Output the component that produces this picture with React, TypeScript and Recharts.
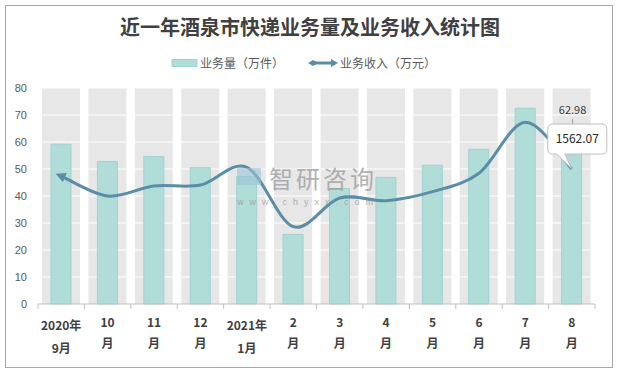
import { Bar, ComposedChart, LabelList, Line, XAxis, YAxis } from "recharts";

const months = [
  "2020年\n9月", "10\n月", "11\n月", "12\n月", "2021年\n1月", "2\n月",
  "3\n月", "4\n月", "5\n月", "6\n月", "7\n月", "8\n月",
];
// 业务量（万件）
const volume = [59.2, 52.8, 54.6, 50.5, 47.2, 25.8, 42.8, 46.9, 51.4, 57.3, 72.5, 62.98];
// 业务收入（万元）
const revenue = [1481, 1250, 1366, 1377, 1582, 895, 1227, 1196, 1300, 1513, 2103, 1562.07];
const leftTicks = [0, 10, 20, 30, 40, 50, 60, 70, 80];

const W = 617;
const H = 372;
const PLOT_LEFT = 38;
const PLOT_RIGHT = 22;
const BAND = (W - PLOT_LEFT - PLOT_RIGHT) / months.length;

const TEAL = "#b1ddd9";
const TEAL_EDGE = "#9fd3cf";
const LINE = "#5a8ea6";
const FONT = "'Noto Sans CJK SC', 'Noto Sans', sans-serif";

const data = months.map((m, i) => ({
  m,
  vol: volume[i],
  rev: revenue[i],
  bg: leftTicks[leftTicks.length - 1],
}));

// Excel-like smoothed line (Catmull-Rom through the points)
const smooth = (ctx: any) => {
  let pts: [number, number][] = [];
  return {
    areaStart() {},
    areaEnd() {},
    lineStart() {
      pts = [];
    },
    lineEnd() {
      if (!pts.length) return;
      ctx.moveTo(pts[0][0], pts[0][1]);
      for (let i = 0; i < pts.length - 1; i++) {
        const p0 = pts[i - 1] || pts[i];
        const p1 = pts[i];
        const p2 = pts[i + 1];
        const p3 = pts[i + 2] || p2;
        ctx.bezierCurveTo(
          p1[0] + (p2[0] - p0[0]) / 6,
          p1[1] + (p2[1] - p0[1]) / 6,
          p2[0] - (p3[0] - p1[0]) / 6,
          p2[1] - (p3[1] - p1[1]) / 6,
          p2[0],
          p2[1]
        );
      }
    },
    point(x: number, y: number) {
      pts.push([+x, +y]);
    },
  };
};

const BgColumn = (props: any) => {
  const { x, y, width, height } = props;
  const steps = leftTicks.length - 1;
  return (
    <g>
      <rect x={x} y={y} width={width} height={height} fill="#e7e7e7" />
      {leftTicks.slice(1).map((_, k) => {
        const ly = y + (height * k) / steps;
        return <line key={k} x1={x} x2={x + width} y1={ly} y2={ly} stroke="#fff" strokeWidth={1} />;
      })}
    </g>
  );
};

const MonthTick = (props: any) => {
  const { x, y, payload, index } = props;
  const [top, bottom] = String(payload.value).split("\n");
  const isYear = top.includes("年");
  const left = x - BAND / 2;
  return (
    <g>
      <line x1={left} x2={left} y1={y} y2={y + 5} stroke="#bfbfbf" />
      {index === months.length - 1 && (
        <line x1={left + BAND} x2={left + BAND} y1={y} y2={y + 5} stroke="#bfbfbf" />
      )}
      <text x={x} y={y + (isYear ? 26 : 23)} textAnchor="middle" fontSize={12} fontWeight="bold" fill="#404040" fontFamily={FONT}>
        {top}
      </text>
      <text x={x} y={y + (isYear ? 49 : 44)} textAnchor="middle" fontSize={12} fontWeight="bold" fill="#404040" fontFamily={FONT}>
        {bottom}
      </text>
    </g>
  );
};

const VolLabel = (props: any) => {
  const { x, y, width, index, value } = props;
  if (index !== volume.length - 1) return null;
  const cx = x + width / 2 + 1;
  return (
    <g>
      <line x1={cx} x2={cx} y1={y - 15} y2={y - 10} stroke="#a0a0a0" />
      <text x={cx} y={y - 20} textAnchor="middle" fontSize={11} fill="#404040" fontFamily={FONT}>
        {value}
      </text>
    </g>
  );
};

const RevLabel = (props: any) => {
  const { x, y, index, value } = props;
  if (index !== revenue.length - 1) return null;
  const bx = x - 24;
  const by = y - 45;
  const bw = 59;
  const bh = 30;
  const r = 5;
  const d = [
    `M${bx + r},${by}`,
    `H${bx + bw - r}`,
    `Q${bx + bw},${by} ${bx + bw},${by + r}`,
    `V${by + bh - r}`,
    `Q${bx + bw},${by + bh} ${bx + bw - r},${by + bh}`,
    `H${x - 7}`,
    `L${x},${y}`,
    `L${x - 15},${by + bh}`,
    `H${bx + r}`,
    `Q${bx},${by + bh} ${bx},${by + bh - r}`,
    `V${by + r}`,
    `Q${bx},${by} ${bx + r},${by}`,
    "Z",
  ].join(" ");
  return (
    <g>
      <path d={d} fill="#fff" stroke="#bfbfbf" />
      <text x={bx + bw / 2} y={by + 19} textAnchor="middle" fontSize={12} fill="#262626" fontFamily={FONT}>
        {value}
      </text>
    </g>
  );
};

export default function App() {
  return (
    <div style={{ position: "absolute", left: 0, top: 0, width: W, height: H, background: "#fff", fontFamily: FONT }}>
      <div style={{ position: "absolute", left: 5, top: 5, width: 606, height: 361, border: "1px solid #a6a6a6" }} />
      <div
        style={{
          position: "absolute",
          left: 0,
          top: 12,
          width: 620,
          textAlign: "center",
          fontSize: 20,
          fontWeight: "bold",
          color: "#404040",
        }}
      >
        近一年酒泉市快递业务量及业务收入统计图
      </div>
      <svg width={W} height={80} style={{ position: "absolute", left: 0, top: 0 }}>
        <rect x={172} y={59.5} width={25} height={7} fill={TEAL} stroke={TEAL_EDGE} />
        <text x={200} y={67.5} fontSize={12} fill="#595959" fontFamily={FONT}>
          业务量（万件）
        </text>
        <line x1={312} x2={333} y1={63} y2={63} stroke={LINE} strokeWidth={3} />
        <path d="M308,63 L313,60 L318,63 L313,66 Z" fill={LINE} />
        <path d="M331,59 L338,63 L331,67 Z" fill={LINE} />
        <text x={340} y={67.5} fontSize={12} fill="#595959" fontFamily={FONT}>
          业务收入（万元）
        </text>
      </svg>
      <div style={{ position: "absolute", left: 0, top: 0 }}>
        <ComposedChart
          width={W}
          height={H}
          data={data}
          margin={{ top: 88, right: PLOT_RIGHT, bottom: 0, left: 0 }}
        >
          <defs>
            <marker
              id="startArrow"
              viewBox="0 0 10 10"
              refX={4}
              refY={5}
              markerWidth={10}
              markerHeight={10}
              markerUnits="userSpaceOnUse"
              orient="auto-start-reverse"
            >
              <path d="M0,0 L10,5 L0,10 Z" fill={LINE} />
            </marker>
          </defs>
          <XAxis xAxisId="bg" dataKey="m" hide />
          <XAxis
            dataKey="m"
            height={68}
            interval={0}
            axisLine={{ stroke: "#bfbfbf" }}
            tickLine={false}
            tickSize={0}
            tickMargin={0}
            tick={<MonthTick />}
          />
          <YAxis
            yAxisId="left"
            width={PLOT_LEFT}
            domain={[0, 80]}
            ticks={leftTicks}
            axisLine={false}
            tickLine={false}
            tickSize={6}
            tickMargin={5}
            tick={{ fontSize: 11, fill: "#595959", fontFamily: "Arial, 'Liberation Sans', sans-serif" }}
          />
          <YAxis yAxisId="right" orientation="right" hide domain={[0, 2500]} />
          <Bar xAxisId="bg" yAxisId="left" dataKey="bg" barSize={38} shape={<BgColumn />} isAnimationActive={false} />
          <Bar yAxisId="left" dataKey="vol" barSize={20} fill={TEAL} stroke={TEAL_EDGE} isAnimationActive={false}>
            <LabelList dataKey="vol" content={<VolLabel />} />
          </Bar>
          <Line
            yAxisId="right"
            dataKey="rev"
            type={smooth as any}
            stroke={LINE}
            strokeWidth={3}
            dot={false}
            activeDot={false}
            markerStart="url(#startArrow)"
            isAnimationActive={false}
          >
            <LabelList dataKey="rev" content={<RevLabel />} />
          </Line>
        </ComposedChart>
      </div>
      <div style={{ position: "absolute", left: 237, top: 165, width: 150, height: 44, pointerEvents: "none", opacity: 0.75 }}>
        <div style={{ position: "absolute", left: 0, top: 3, width: 24, height: 17, background: "#9cc3d8", opacity: 0.8 }} />
        <div style={{ position: "absolute", left: 32, top: 1, fontSize: 24, lineHeight: "24px", color: "#9a9a9a", letterSpacing: 3, whiteSpace: "nowrap" }}>
          智研咨询
        </div>
        <div style={{ position: "absolute", left: 0, top: 32, fontSize: 9, lineHeight: "10px", color: "#9a9a9a", letterSpacing: 6, whiteSpace: "nowrap", fontFamily: "Arial, sans-serif" }}>
          www.chyxx.com
        </div>
      </div>
    </div>
  );
}
